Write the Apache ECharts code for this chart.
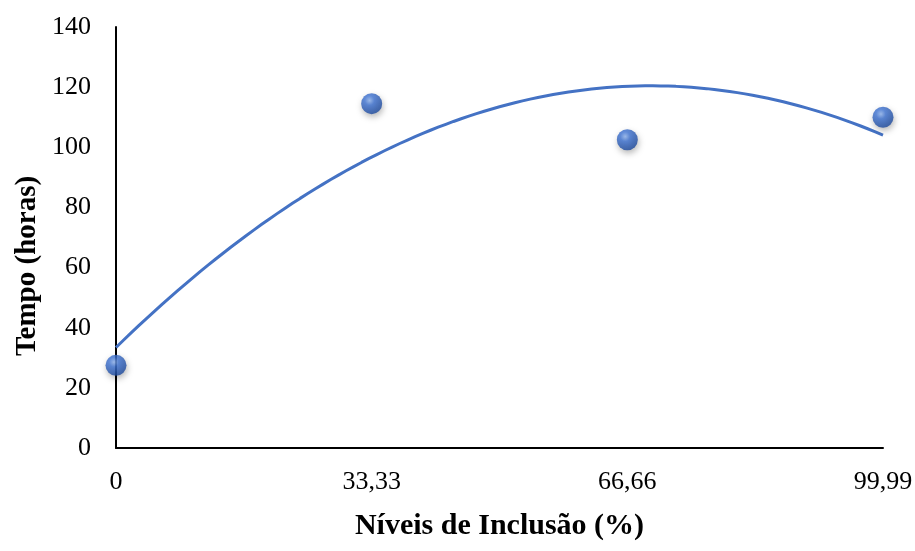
<!DOCTYPE html>
<html>
<head>
<meta charset="utf-8">
<script src="https://cdn.jsdelivr.net/npm/echarts@6/dist/echarts.min.js"></script>
<style>html,body{margin:0;padding:0;background:#fff}#c{width:915px;height:551px}</style>
</head>
<body>
<div id="c"></div>
<script>
const xValues = [0, 33.33, 66.66, 99.99];
const xTickLabels = ['0', '33,33', '66,66', '99,99'];
const yValues = [27.5, 114.5, 102.5, 110];
const xTitle = 'Níveis de Inclusão (%)';
const yTitle = 'Tempo (horas)';

// Polynomial (order 2) least-squares trendline, as in the original spreadsheet chart
function quadFit(xs, ys) {
  let S = [0,0,0,0,0], T = [0,0,0];
  for (let i = 0; i < xs.length; i++) {
    let p = 1;
    for (let k = 0; k < 5; k++) { S[k] += p; if (k < 3) T[k] += p * ys[i]; p *= xs[i]; }
  }
  const A = [[S[0],S[1],S[2],T[0]],[S[1],S[2],S[3],T[1]],[S[2],S[3],S[4],T[2]]];
  for (let i = 0; i < 3; i++) {
    for (let j = i+1; j < 3; j++) {
      const f = A[j][i]/A[i][i];
      for (let k = i; k < 4; k++) A[j][k] -= f*A[i][k];
    }
  }
  const c = [0,0,0];
  for (let i = 2; i >= 0; i--) {
    let s = A[i][3];
    for (let k = i+1; k < 3; k++) s -= A[i][k]*c[k];
    c[i] = s/A[i][i];
  }
  return c;
}
const coef = quadFit(xValues, yValues);
const trend = [];
const x0 = xValues[0], x1 = xValues[xValues.length-1];
for (let i = 0; i <= 100; i++) {
  const x = x0 + (x1 - x0) * i / 100;
  trend.push([x, coef[0] + coef[1]*x + coef[2]*x*x]);
}

const chart = echarts.init(document.getElementById('c'));
const font = '"Liberation Serif", "Times New Roman", serif';
chart.setOption({
  animation: false,
  grid: { left: 116, right: 32, top: 27, bottom: 103, containLabel: false, outerBoundsMode: 'none' },
  graphic: [{
    type: 'text', x: 28, y: 266, rotation: Math.PI / 2,
    style: {
      text: yTitle, fontFamily: font, fontSize: 29, fontWeight: 'bold', fill: '#000',
      textAlign: 'center', textVerticalAlign: 'middle'
    }
  }],
  xAxis: {
    type: 'value', min: 0, max: 99.99, interval: 33.33,
    axisLine: { lineStyle: { color: '#000', width: 2 } },
    axisTick: { show: false },
    splitLine: { show: false },
    axisLabel: {
      margin: 21, fontFamily: font, fontSize: 26, color: '#000',
      formatter: v => { const i = xValues.findIndex(x => Math.abs(x - v) < 0.01); return i >= 0 ? xTickLabels[i] : ''; }
    },
    name: xTitle, nameLocation: 'middle', nameGap: 63,
    nameTextStyle: { fontFamily: font, fontSize: 30, fontWeight: 'bold', color: '#000' }
  },
  yAxis: {
    type: 'value', min: 0, max: 140, interval: 20,
    axisLine: { show: true, lineStyle: { color: '#000', width: 2 } },
    axisTick: { show: false },
    splitLine: { show: false },
    axisLabel: { margin: 25, fontFamily: font, fontSize: 26, color: '#000' }
  },
  series: [
    {
      type: 'line', data: trend, showSymbol: false, smooth: false, z: 2,
      lineStyle: { color: '#4472C4', width: 3 }
    },
    {
      type: 'scatter', data: xValues.map((x, i) => [x, yValues[i]]), symbolSize: 21, z: 3,
      itemStyle: {
        color: new echarts.graphic.RadialGradient(0.4, 0.35, 0.65, [
          { offset: 0, color: '#8fb4f0' },
          { offset: 0.35, color: '#3f74d4' },
          { offset: 1, color: '#1d4a9e' }
        ]),
        shadowBlur: 6, shadowColor: 'rgba(0,0,0,0.35)', shadowOffsetX: 1, shadowOffsetY: 3
      }
    }
  ]
});
</script>
</body>
</html>
